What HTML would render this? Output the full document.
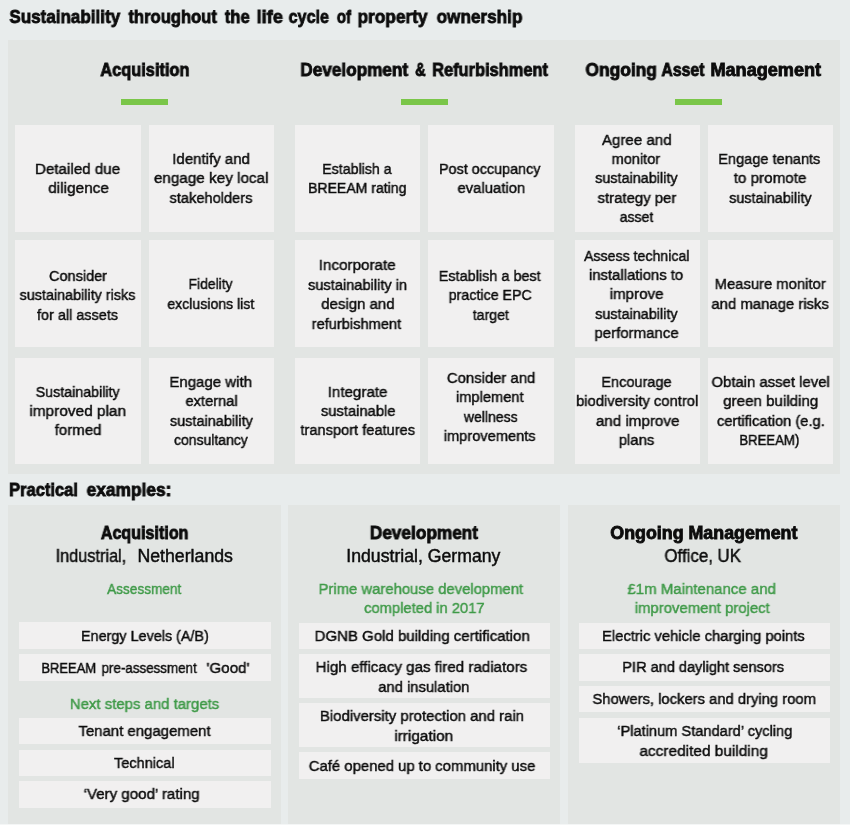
<!DOCTYPE html>
<html><head><meta charset="utf-8"><title>Sustainability throughout the life cycle of property ownership</title>
<style>
html,body{margin:0;padding:0;}
body{width:850px;height:825px;background:#e8ecec;position:relative;overflow:hidden;
 font-family:"Liberation Sans",sans-serif;color:#0c0c0c;}
.r{position:absolute;}
.l{position:absolute;white-space:nowrap;line-height:20px;height:20px;font-size:15.5px;}
.c{width:400px;text-align:center;}
.l span{display:inline-block;transform-origin:50% 50%;will-change:transform;-webkit-text-stroke:0.45px currentColor;}
.l.b span{-webkit-text-stroke:0.85px currentColor;}
.l.lf span{transform-origin:0 50%;}
.b{font-weight:bold;}
.g{color:#3f9a48;}
</style></head><body>
<div class="r" style="left:8.2px;top:40px;width:831.50px;height:434.00px;background:#e2e5e3"></div>
<div class="r" style="left:15.4px;top:124.8px;width:125.20px;height:107.10px;background:#f1f0f0"></div>
<div class="r" style="left:148.6px;top:124.8px;width:125.40px;height:107.10px;background:#f1f0f0"></div>
<div class="r" style="left:294.7px;top:124.8px;width:125.40px;height:107.10px;background:#f1f0f0"></div>
<div class="r" style="left:428.3px;top:124.8px;width:125.70px;height:107.10px;background:#f1f0f0"></div>
<div class="r" style="left:574.6px;top:124.8px;width:125.40px;height:107.10px;background:#f1f0f0"></div>
<div class="r" style="left:707.8px;top:124.8px;width:125.50px;height:107.10px;background:#f1f0f0"></div>
<div class="r" style="left:15.4px;top:240.3px;width:125.20px;height:107.00px;background:#f1f0f0"></div>
<div class="r" style="left:148.6px;top:240.3px;width:125.40px;height:107.00px;background:#f1f0f0"></div>
<div class="r" style="left:294.7px;top:240.3px;width:125.40px;height:107.00px;background:#f1f0f0"></div>
<div class="r" style="left:428.3px;top:240.3px;width:125.70px;height:107.00px;background:#f1f0f0"></div>
<div class="r" style="left:574.6px;top:240.3px;width:125.40px;height:107.00px;background:#f1f0f0"></div>
<div class="r" style="left:707.8px;top:240.3px;width:125.50px;height:107.00px;background:#f1f0f0"></div>
<div class="r" style="left:15.4px;top:357.6px;width:125.20px;height:106.80px;background:#f1f0f0"></div>
<div class="r" style="left:148.6px;top:357.6px;width:125.40px;height:106.80px;background:#f1f0f0"></div>
<div class="r" style="left:294.7px;top:357.6px;width:125.40px;height:106.80px;background:#f1f0f0"></div>
<div class="r" style="left:428.3px;top:357.6px;width:125.70px;height:106.80px;background:#f1f0f0"></div>
<div class="r" style="left:574.6px;top:357.6px;width:125.40px;height:106.80px;background:#f1f0f0"></div>
<div class="r" style="left:707.8px;top:357.6px;width:125.50px;height:106.80px;background:#f1f0f0"></div>
<div class="r" style="left:8.2px;top:505.1px;width:272.40px;height:319.90px;background:#e2e5e3"></div>
<div class="r" style="left:288px;top:505.1px;width:272.10px;height:319.90px;background:#e2e5e3"></div>
<div class="r" style="left:568px;top:505.1px;width:271.70px;height:319.90px;background:#e2e5e3"></div>
<div class="r" style="left:0px;top:824px;width:850.00px;height:1.00px;background:#f4f6f6"></div>
<div class="r" style="left:121.2px;top:98.9px;width:46.90px;height:5.70px;background:#7ac649"></div>
<div class="r" style="left:400.5px;top:98.9px;width:47.00px;height:5.70px;background:#7ac649"></div>
<div class="r" style="left:675.3px;top:98.9px;width:47.20px;height:5.70px;background:#7ac649"></div>
<div class="r" style="left:19px;top:622.4px;width:251.50px;height:26.40px;background:#f1f0f0"></div>
<div class="r" style="left:19px;top:654.2px;width:251.50px;height:26.60px;background:#f1f0f0"></div>
<div class="r" style="left:19px;top:717.5px;width:251.50px;height:26.70px;background:#f1f0f0"></div>
<div class="r" style="left:19px;top:749.6px;width:251.50px;height:26.40px;background:#f1f0f0"></div>
<div class="r" style="left:19px;top:781px;width:251.50px;height:26.50px;background:#f1f0f0"></div>
<div class="r" style="left:299.2px;top:622.6px;width:250.40px;height:26.40px;background:#f1f0f0"></div>
<div class="r" style="left:299.2px;top:654.2px;width:250.40px;height:44.20px;background:#f1f0f0"></div>
<div class="r" style="left:299.2px;top:703.1px;width:250.40px;height:44.10px;background:#f1f0f0"></div>
<div class="r" style="left:299.2px;top:752.4px;width:250.40px;height:26.60px;background:#f1f0f0"></div>
<div class="r" style="left:578.9px;top:622.6px;width:250.90px;height:26.40px;background:#f1f0f0"></div>
<div class="r" style="left:578.9px;top:653.8px;width:250.90px;height:26.90px;background:#f1f0f0"></div>
<div class="r" style="left:578.9px;top:685.8px;width:250.90px;height:26.60px;background:#f1f0f0"></div>
<div class="r" style="left:578.9px;top:717.6px;width:250.90px;height:45.00px;background:#f1f0f0"></div>
<div class="l b c" style="top:6.72px;font-size:19.0px;left:-134.94px;"><span style="transform:scaleX(0.8966)">Sustainability</span></div>
<div class="l b c" style="top:6.72px;font-size:19.0px;left:-27.54px;"><span style="transform:scaleX(0.8725)">throughout</span></div>
<div class="l b c" style="top:6.72px;font-size:19.0px;left:37.15px;"><span style="transform:scaleX(0.8755)">the</span></div>
<div class="l b c" style="top:6.72px;font-size:19.0px;left:69.59px;"><span style="transform:scaleX(0.9576)">life</span></div>
<div class="l b c" style="top:6.72px;font-size:19.0px;left:108.74px;"><span style="transform:scaleX(0.8488)">cycle</span></div>
<div class="l b c" style="top:6.72px;font-size:19.0px;left:143.83px;"><span style="transform:scaleX(0.8018)">of</span></div>
<div class="l b c" style="top:6.72px;font-size:19.0px;left:192.65px;"><span style="transform:scaleX(0.9076)">property</span></div>
<div class="l b c" style="top:6.72px;font-size:19.0px;left:279.47px;"><span style="transform:scaleX(0.9029)">ownership</span></div>
<div class="l b c" style="top:60.10px;font-size:17.6px;left:-55.30px;"><span style="transform:scaleX(0.9313)">Acquisition</span></div>
<div class="l b c" style="top:60.10px;font-size:17.6px;left:154.09px;"><span style="transform:scaleX(0.9768)">Development</span></div>
<div class="l b c" style="top:60.10px;font-size:17.6px;left:220.28px;"><span style="transform:scaleX(0.8231)">&amp;</span></div>
<div class="l b c" style="top:60.10px;font-size:17.6px;left:289.77px;"><span style="transform:scaleX(0.9329)">Refurbishment</span></div>
<div class="l b c" style="top:60.10px;font-size:17.6px;left:421.07px;"><span style="transform:scaleX(0.9888)">Ongoing</span></div>
<div class="l b c" style="top:60.10px;font-size:17.6px;left:483.44px;"><span style="transform:scaleX(0.8996)">Asset</span></div>
<div class="l b c" style="top:60.10px;font-size:17.6px;left:566.26px;"><span style="transform:scaleX(1.0295)">Management</span></div>
<div class="l c" style="top:158.73px;left:-122.19px;"><span style="transform:scaleX(0.9783)">Detailed due</span></div>
<div class="l c" style="top:178.13px;left:-121.69px;"><span style="transform:scaleX(0.9916)">diligence</span></div>
<div class="l c" style="top:149.03px;left:10.82px;"><span style="transform:scaleX(0.9687)">Identify and</span></div>
<div class="l c" style="top:168.43px;left:11.22px;"><span style="transform:scaleX(0.9842)">engage key local</span></div>
<div class="l c" style="top:187.83px;left:10.88px;"><span style="transform:scaleX(0.9426)">stakeholders</span></div>
<div class="l c" style="top:158.73px;left:156.57px;"><span style="transform:scaleX(0.9147)">Establish a</span></div>
<div class="l c" style="top:178.13px;left:157.03px;"><span style="transform:scaleX(0.9053)">BREEAM rating</span></div>
<div class="l c" style="top:158.73px;left:290.02px;"><span style="transform:scaleX(0.9265)">Post occupancy</span></div>
<div class="l c" style="top:178.13px;left:290.90px;"><span style="transform:scaleX(0.9575)">evaluation</span></div>
<div class="l c" style="top:129.63px;left:437.00px;"><span style="transform:scaleX(0.9740)">Agree and</span></div>
<div class="l c" style="top:149.03px;left:436.31px;"><span style="transform:scaleX(0.9378)">monitor</span></div>
<div class="l c" style="top:168.43px;left:436.58px;"><span style="transform:scaleX(0.9280)">sustainability</span></div>
<div class="l c" style="top:187.83px;left:436.78px;"><span style="transform:scaleX(0.9619)">strategy per</span></div>
<div class="l c" style="top:207.23px;left:436.39px;"><span style="transform:scaleX(0.9060)">asset</span></div>
<div class="l c" style="top:149.03px;left:569.41px;"><span style="transform:scaleX(0.9401)">Engage tenants</span></div>
<div class="l c" style="top:168.43px;left:570.30px;"><span style="transform:scaleX(0.9807)">to promote</span></div>
<div class="l c" style="top:187.83px;left:569.88px;"><span style="transform:scaleX(0.9280)">sustainability</span></div>
<div class="l c" style="top:265.98px;left:-121.92px;"><span style="transform:scaleX(0.9355)">Consider</span></div>
<div class="l c" style="top:285.38px;left:-122.12px;"><span style="transform:scaleX(0.9260)">sustainability risks</span></div>
<div class="l c" style="top:304.78px;left:-122.12px;"><span style="transform:scaleX(0.9315)">for all assets</span></div>
<div class="l c" style="top:274.18px;left:10.84px;"><span style="transform:scaleX(0.8976)">Fidelity</span></div>
<div class="l c" style="top:293.58px;left:11.08px;"><span style="transform:scaleX(0.9094)">exclusions list</span></div>
<div class="l c" style="top:255.38px;left:157.21px;"><span style="transform:scaleX(0.9814)">Incorporate</span></div>
<div class="l c" style="top:274.78px;left:157.69px;"><span style="transform:scaleX(0.9415)">sustainability in</span></div>
<div class="l c" style="top:294.18px;left:157.70px;"><span style="transform:scaleX(0.9673)">design and</span></div>
<div class="l c" style="top:313.58px;left:156.60px;"><span style="transform:scaleX(0.9441)">refurbishment</span></div>
<div class="l c" style="top:265.98px;left:290.01px;"><span style="transform:scaleX(0.9319)">Establish a best</span></div>
<div class="l c" style="top:285.38px;left:290.43px;"><span style="transform:scaleX(0.9186)">practice EPC</span></div>
<div class="l c" style="top:304.78px;left:290.48px;"><span style="transform:scaleX(0.9122)">target</span></div>
<div class="l c" style="top:245.68px;left:437.00px;"><span style="transform:scaleX(0.9130)">Assess technical</span></div>
<div class="l c" style="top:265.08px;left:436.62px;"><span style="transform:scaleX(0.9603)">installations to</span></div>
<div class="l c" style="top:284.48px;left:436.61px;"><span style="transform:scaleX(0.9767)">improve</span></div>
<div class="l c" style="top:303.88px;left:436.68px;"><span style="transform:scaleX(0.9280)">sustainability</span></div>
<div class="l c" style="top:323.28px;left:436.62px;"><span style="transform:scaleX(0.9669)">performance</span></div>
<div class="l c" style="top:274.18px;left:569.70px;"><span style="transform:scaleX(0.9552)">Measure monitor</span></div>
<div class="l c" style="top:293.58px;left:569.98px;"><span style="transform:scaleX(0.9606)">and manage risks</span></div>
<div class="l c" style="top:381.68px;left:-122.11px;"><span style="transform:scaleX(0.9193)">Sustainability</span></div>
<div class="l c" style="top:401.08px;left:-122.19px;"><span style="transform:scaleX(0.9928)">improved plan</span></div>
<div class="l c" style="top:420.48px;left:-121.70px;"><span style="transform:scaleX(0.9715)">formed</span></div>
<div class="l c" style="top:371.98px;left:11.02px;"><span style="transform:scaleX(0.9674)">Engage with</span></div>
<div class="l c" style="top:391.38px;left:11.41px;"><span style="transform:scaleX(0.9447)">external</span></div>
<div class="l c" style="top:410.78px;left:11.08px;"><span style="transform:scaleX(0.9336)">sustainability</span></div>
<div class="l c" style="top:430.18px;left:11.09px;"><span style="transform:scaleX(0.9013)">consultancy</span></div>
<div class="l c" style="top:381.68px;left:157.41px;"><span style="transform:scaleX(0.9765)">Integrate</span></div>
<div class="l c" style="top:401.08px;left:157.89px;"><span style="transform:scaleX(0.9509)">sustainable</span></div>
<div class="l c" style="top:420.48px;left:157.48px;"><span style="transform:scaleX(0.9437)">transport features</span></div>
<div class="l c" style="top:367.98px;left:291.00px;"><span style="transform:scaleX(0.9595)">Consider and</span></div>
<div class="l c" style="top:387.38px;left:289.90px;"><span style="transform:scaleX(0.9464)">implement</span></div>
<div class="l c" style="top:406.78px;left:291.04px;"><span style="transform:scaleX(0.9045)">wellness</span></div>
<div class="l c" style="top:426.18px;left:290.11px;"><span style="transform:scaleX(0.9440)">improvements</span></div>
<div class="l c" style="top:371.98px;left:436.82px;"><span style="transform:scaleX(0.9376)">Encourage</span></div>
<div class="l c" style="top:391.38px;left:436.74px;"><span style="transform:scaleX(0.9516)">biodiversity control</span></div>
<div class="l c" style="top:410.78px;left:437.30px;"><span style="transform:scaleX(0.9786)">and improve</span></div>
<div class="l c" style="top:430.18px;left:436.40px;"><span style="transform:scaleX(0.9577)">plans</span></div>
<div class="l c" style="top:371.98px;left:570.21px;"><span style="transform:scaleX(0.9593)">Obtain asset level</span></div>
<div class="l c" style="top:391.38px;left:570.30px;"><span style="transform:scaleX(0.9762)">green building</span></div>
<div class="l c" style="top:410.78px;left:570.62px;"><span style="transform:scaleX(0.9481)">certification (e.g.</span></div>
<div class="l c" style="top:430.18px;left:569.64px;"><span style="transform:scaleX(0.8482)">BREEAM)</span></div>
<div class="l b c" style="top:479.76px;font-size:18px;left:-156.20px;"><span style="transform:scaleX(0.9175)">Practical</span></div>
<div class="l b c" style="top:479.76px;font-size:18px;left:-70.97px;"><span style="transform:scaleX(0.9635)">examples:</span></div>
<div class="l b c" style="top:523.14px;font-size:17.5px;left:-54.88px;"><span style="transform:scaleX(0.9200)">Acquisition</span></div>
<div class="l c" style="top:546.44px;font-size:17.5px;left:-108.96px;"><span style="transform:scaleX(0.9294)">Industrial,</span></div>
<div class="l c" style="top:546.44px;font-size:17.5px;left:-15.13px;"><span style="transform:scaleX(1.0121)">Netherlands</span></div>
<div class="l b c" style="top:523.14px;font-size:17.5px;left:223.72px;"><span style="transform:scaleX(0.9844)">Development</span></div>
<div class="l c" style="top:546.44px;font-size:17.5px;left:223.47px;"><span style="transform:scaleX(1.0092)">Industrial, Germany</span></div>
<div class="l b c" style="top:523.14px;font-size:17.5px;left:503.51px;"><span style="transform:scaleX(1.0180)">Ongoing Management</span></div>
<div class="l c" style="top:546.44px;font-size:17.5px;left:503.04px;"><span style="transform:scaleX(0.9638)">Office, UK</span></div>
<div class="l g c" style="top:578.83px;left:-55.50px;"><span style="transform:scaleX(0.8789)">Assessment</span></div>
<div class="l g c" style="top:693.53px;left:-55.50px;"><span style="transform:scaleX(0.9633)">Next steps and targets</span></div>
<div class="l g c" style="top:578.53px;left:221.19px;"><span style="transform:scaleX(0.9574)">Prime warehouse development</span></div>
<div class="l g c" style="top:597.93px;left:224.49px;"><span style="transform:scaleX(0.9510)">completed in 2017</span></div>
<div class="l g c" style="top:578.53px;left:501.30px;"><span style="transform:scaleX(0.9673)">£1m Maintenance and</span></div>
<div class="l g c" style="top:597.93px;left:502.69px;"><span style="transform:scaleX(0.9619)">improvement project</span></div>
<div class="l c" style="top:625.68px;left:-55.29px;"><span style="transform:scaleX(0.9269)">Energy Levels (A/B)</span></div>
<div class="l c" style="top:657.58px;left:-131.09px;"><span style="transform:scaleX(0.8360)">BREEAM</span></div>
<div class="l c" style="top:657.58px;left:-50.58px;"><span style="transform:scaleX(0.8632)">pre-assessment</span></div>
<div class="l c" style="top:657.58px;left:27.53px;"><span style="transform:scaleX(0.9768)">&#x27;Good&#x27;</span></div>
<div class="l c" style="top:720.93px;left:-55.53px;"><span style="transform:scaleX(0.9640)">Tenant engagement</span></div>
<div class="l c" style="top:752.88px;left:-55.29px;"><span style="transform:scaleX(0.9377)">Technical</span></div>
<div class="l c" style="top:784.33px;left:-58.30px;"><span style="transform:scaleX(0.9741)">‘Very good’ rating</span></div>
<div class="l c" style="top:625.88px;left:222.12px;"><span style="transform:scaleX(0.9679)">DGNB Gold building certification</span></div>
<div class="l c" style="top:657.48px;left:221.39px;"><span style="transform:scaleX(0.9764)">High efficacy gas fired radiators</span></div>
<div class="l c" style="top:676.88px;left:224.30px;"><span style="transform:scaleX(0.9520)">and insulation</span></div>
<div class="l c" style="top:706.33px;left:221.62px;"><span style="transform:scaleX(0.9631)">Biodiversity protection and rain</span></div>
<div class="l c" style="top:725.73px;left:223.81px;"><span style="transform:scaleX(0.9885)">irrigation</span></div>
<div class="l c" style="top:755.78px;left:222.10px;"><span style="transform:scaleX(0.9597)">Café opened up to community use</span></div>
<div class="l c" style="top:625.88px;left:503.20px;"><span style="transform:scaleX(0.9525)">Electric vehicle charging points</span></div>
<div class="l c" style="top:657.33px;left:503.11px;"><span style="transform:scaleX(0.9389)">PIR and daylight sensors</span></div>
<div class="l c" style="top:689.18px;left:503.93px;"><span style="transform:scaleX(0.9536)">Showers, lockers and drying room</span></div>
<div class="l c" style="top:721.28px;left:504.29px;"><span style="transform:scaleX(0.9434)">‘Platinum Standard’ cycling</span></div>
<div class="l c" style="top:740.68px;left:504.01px;"><span style="transform:scaleX(0.9924)">accredited building</span></div>
</body></html>
